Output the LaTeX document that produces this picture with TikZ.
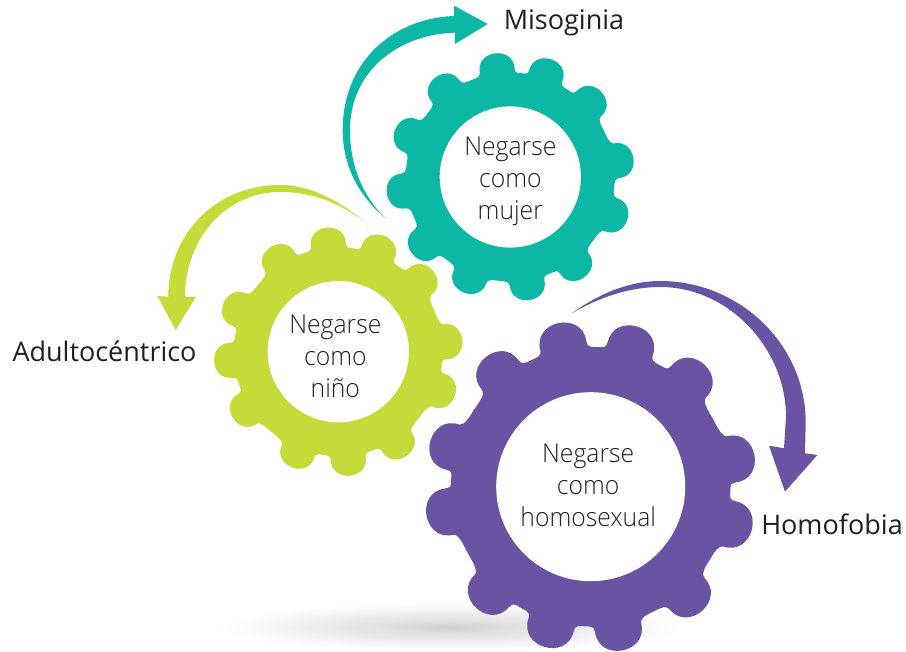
\documentclass[tikz,border=0pt]{standalone}
\usepackage{fontspec}
\usetikzlibrary{calc}
\setmainfont{Open Sans}
\newfontfamily\innerfont{Open Sans Light}[FakeStretch=.95]
\definecolor{tealc}{HTML}{0CB8A5}
\definecolor{limec}{HTML}{C6DA3A}
\definecolor{purplec}{HTML}{6A53A2}
\definecolor{inkc}{HTML}{231F20}
\pgfdeclareradialshading{glow}{\pgfpointorigin}{color(0bp)=(black!19); color(7bp)=(black!12); color(25bp)=(white); color(50bp)=(white)}
\tikzset{
  hole/.style={circle,fill=white,inner sep=0pt},
  holetext/.style={inner sep=0pt,align=center,text=inkc,font=\innerfont\fontsize{26}{32}\selectfont},
  tag/.style={text=inkc,inner sep=0pt,font=\fontsize{27}{30}\selectfont}
}
% #1 name, #2 cx, #3 cy (y up), #4 tip radius, #5 colour, #6 first angle, #7 angle pairs, #8 text, #9 text offset
\newcommand\gearshape[9]{%
  \begin{scope}[shift={(#2,#3)},x=#4pt,y=#4pt]
    \fill[#5] (#6+9.3:.865)
      \foreach \a/\b in {#7} {
        .. controls (\a+8.3:1.05) and (\a-8.3:1.05) .. (\a-9.3:.865)
        .. controls (\a-9.8:.835) and (\a/2+\b/2+3.5:.832) .. (\a/2+\b/2:.832)
        .. controls (\a/2+\b/2-3.5:.832) and (\b+9.8:.835) .. (\b+9.3:.865)
      } -- cycle;
    \node[hole,minimum size=#4*1.125pt] (#1) at (0,0) {};
  \end{scope}
  \node[holetext] (#1text) at ($(#2,#3)+(#9)$) {#8};}
\begin{document}
\begin{tikzpicture}[x=1pt,y=1pt]
\useasboundingbox (0,0) rectangle (906,652);
\fill[white] (0,0) rectangle (906,652);
% shadow
\shade[shading=glow] (450,25) ellipse [x radius=232,y radius=24];
% teal arrow
\fill[tealc] (385,434) .. controls (358,457) and (342.7,487) .. (342.7,522)
  .. controls (342.7,592) and (395,634) .. (454,636) -- (454,646.3) -- (487.7,628) -- (455,608) -- (455,619.3)
  .. controls (400,618) and (350,582) .. (350,522)
  .. controls (350,487) and (362,457) .. (385,434) -- cycle;
% lime arrow
\fill[limec] (370,425.3) .. controls (340,452) and (310,467) .. (280,467)
  .. controls (215,467) and (168,417) .. (168.3,355.3) -- (157.3,356) -- (175.7,322) -- (196,355.3) -- (185,355.3)
  .. controls (185,412) and (225,460) .. (280,460)
  .. controls (315,460) and (345,447) .. (370,425.3) -- cycle;
% purple arrow
\fill[purplec] (571.7,338.7) .. controls (600,359) and (630,371) .. (660,371)
  .. controls (740,371) and (806,307) .. (805.7,229) -- (805,198.7) -- (817.3,197) -- (785,160.3) -- (769,206.3) -- (784,203.7) -- (786,235.3)
  .. controls (786,302) and (730,365) .. (660,365)
  .. controls (630,365) and (600,355) .. (571.7,338.7) -- cycle;
% gears
\gearshape{mujer}{510.3}{475}{125.5}{tealc}{97}{97/70.7,70.7/43,43/8.7,8.7/-20.5,-20.5/-53.5,-53.5/-81,-81/-112,-112/-142,-142/-172.5,-172.5/-202.5,-202.5/-233,-233/-263}{Negarse\\como\\mujer}{0,-4}
\gearshape{nino}{338.3}{300.3}{125.5}{limec}{95.3}{95.3/68.2,68.2/40.6,40.6/5.3,5.3/-21,-21/-57,-57/-84.7,-84.7/-112,-112/-147.8,-147.8/-175.4,-175.4/-203,-203/-237,-237/-264.7}{Negarse\\como\\niño}{-3,-5}
\gearshape{homo}{590.7}{165.3}{168}{purplec}{101}{101/74,74/47,47/11,11/-15,-15/-48,-48/-79,-79/-106,-106/-133.5,-133.5/-170,-170/-196,-196/-231,-231/-259}{Negarse\\como\\homosexual}{-2.5,1}
% labels
\node[tag] (misoginia) at (564,629) {Misoginia};
\node[tag] (adulto) at (104.5,301) {Adultocéntrico};
\node[tag] (homofobia) at (832,128) {Homofobia};
\end{tikzpicture}
\end{document}
